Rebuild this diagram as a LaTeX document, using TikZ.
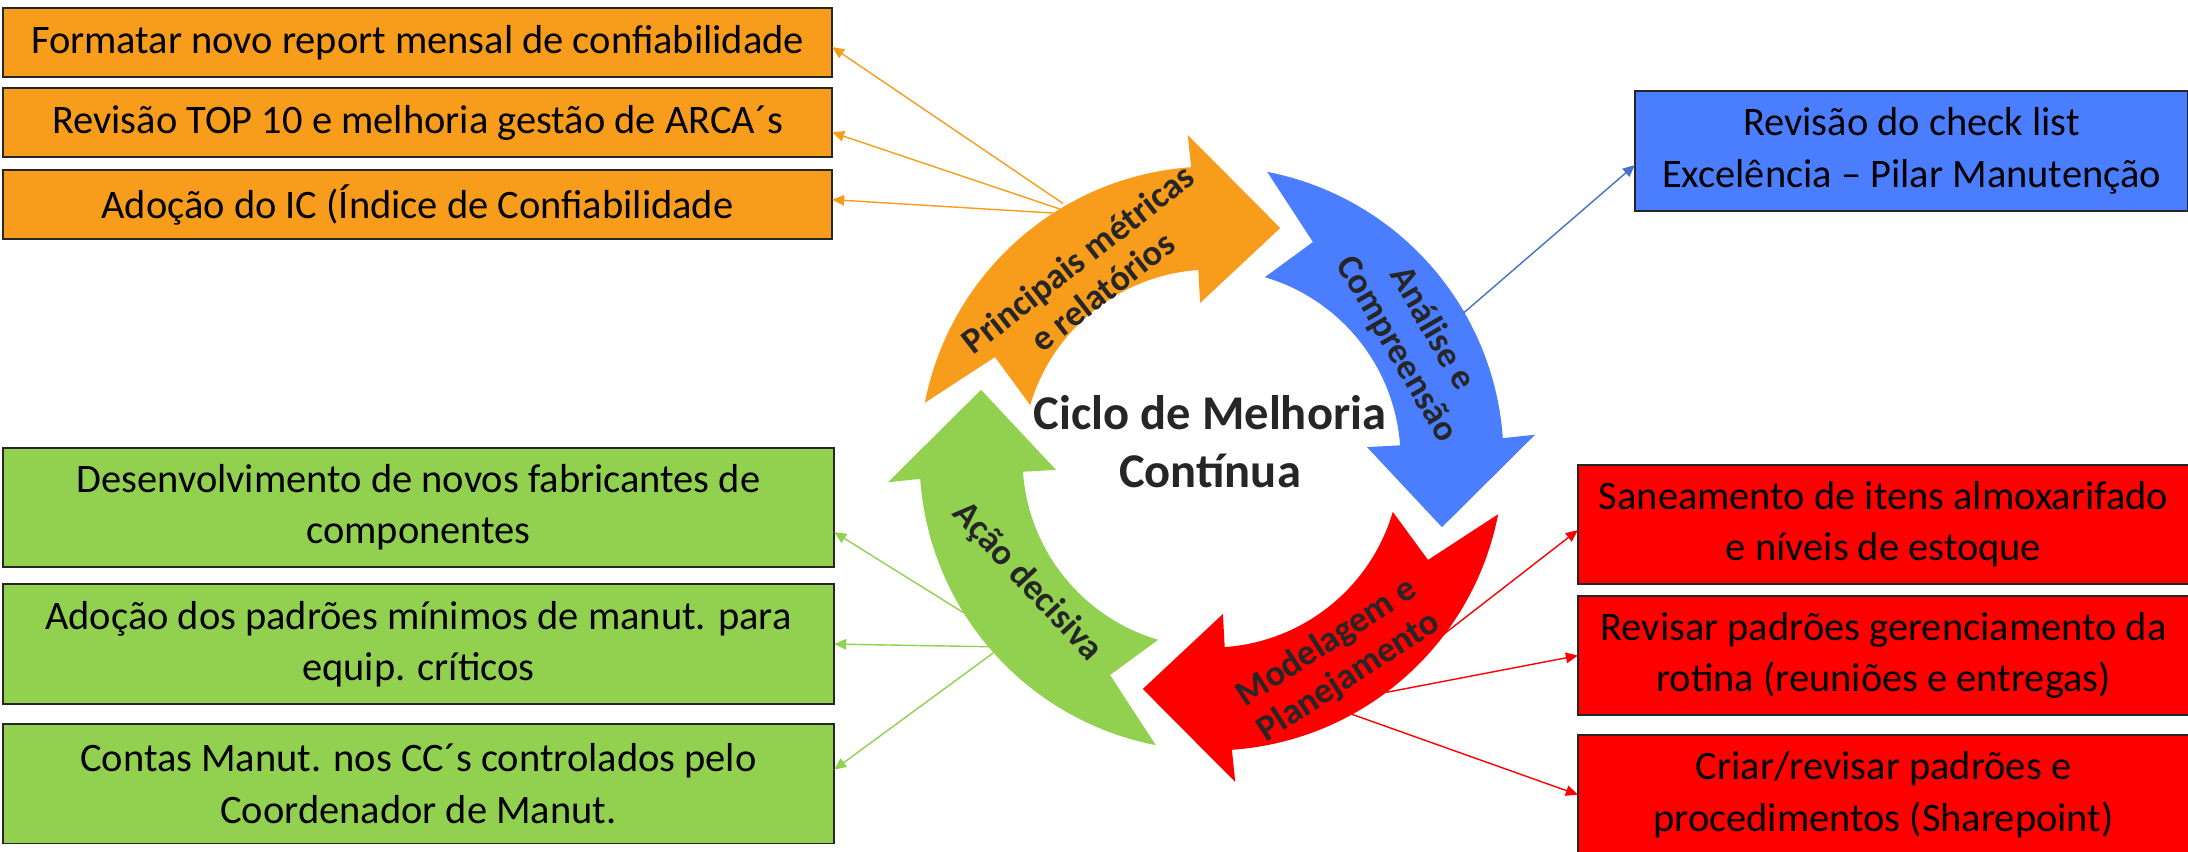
\documentclass[tikz,border=0pt]{standalone}
\usepackage{fontspec}
\setmainfont{Carlito}
\usetikzlibrary{arrows.meta,positioning}
\definecolor{cyOrange}{HTML}{F89C1C}
\definecolor{cyBlue}{HTML}{4A7EFF}
\definecolor{cyRed}{HTML}{FF0000}
\definecolor{cyGreen}{HTML}{92D050}
\definecolor{cyText}{HTML}{262626}
\definecolor{linkBlue}{HTML}{4472C4}
\tikzset{
	task/.style={draw=black!85, line width=0.5pt, fill=#1, inner sep=0pt, outer sep=0pt,
			align=center, font=\fontsize{11.5}{14.6}\selectfont},
	link/.style={draw=#1, line width=0.4pt, -{Triangle[length=3.4pt,width=3pt]}},
	steplabel/.style={text=cyText, align=center,
			font=\bfseries\fontsize{10.3}{11.6}\selectfont}
}

\begin{document}
\begin{tikzpicture}[x=0.01cm, y=-0.01cm]
	\useasboundingbox (0,0) rectangle (2188,851);
	\begin{scope}[shift={(1211.5,458.5)}, yscale=-1]
		\foreach \turn/\col in {0/cyOrange, 90/cyBlue, 180/cyRed, 270/cyGreen}
		\fill[\col, rotate=\turn]
		(169:292) arc[start angle=169, end angle=94, radius=292]
		-- (94.2:324.4) -- (73.4:240.5) -- (94.2:155.9) -- (94:189)
		arc[start angle=94, end angle=163.6, radius=189]
		-- (154.9:239.1) -- cycle;
		\coordinate (om1) at (120.2:295);
		\coordinate (om2) at (121.3:292);
		\coordinate (om3) at (122.8:292);
		\coordinate (bm) at (30:291);
		\coordinate (rm1) at (-37.3:291);
		\coordinate (rm2) at (-53.2:292);
		\coordinate (rm3) at (-61.2:292);
		\coordinate (gm1) at (-148.1:292);
		\coordinate (gm2) at (-139.7:291);
		\coordinate (gm3) at (-138.3:292);
	\end{scope}
	\node[steplabel, rotate=38] (lbOrange) at (1090,275) {Principais métricas\\e relatórios};
	\node[steplabel, rotate=-60] (lbBlue) at (1414,339) {Análise e\\Compreensão};
	\node[steplabel, rotate=33] (lbRed) at (1338,660) {Modelagem e\\Planejamento};
	\node[steplabel, rotate=-47] (lbGreen) at (1027,582) {Ação decisiva};
	\node[text=cyText, align=center, font=\bfseries\fontsize{13.8}{16.5}\selectfont]
	(title) at (1210,442) {Ciclo de Melhoria\\Contínua};

	\node[task=cyOrange, minimum width=8.29cm, minimum height=0.69cm]
	(o1) at (417.5,42.5) {Formatar novo report mensal de confiabilidade};
	\node[task=cyOrange, minimum width=8.29cm, minimum height=0.69cm, below=0.11cm of o1]
	(o2) {Revisão TOP 10 e melhoria gestão de ARCA´s};
	\node[task=cyOrange, minimum width=8.29cm, minimum height=0.69cm, below=0.13cm of o2]
	(o3) {Adoção do IC (Índice de Confiabilidade};

	\node[task=cyBlue, minimum width=5.53cm, minimum height=1.2cm]
	(b1) at (1911.5,151) {Revisão do check list\\Excelência – Pilar Manutenção};

	\node[task=cyRed, minimum width=6.11cm, minimum height=1.19cm]
	(r1) at (1883.5,524.5) {Saneamento de itens almoxarifado\\e níveis de estoque};
	\node[task=cyRed, minimum width=6.11cm, minimum height=1.19cm, below=0.12cm of r1]
	(r2) {Revisar padrões gerenciamento da\\rotina (reuniões e entregas)};
	\node[task=cyRed, minimum width=6.11cm, minimum height=1.19cm, below=0.2cm of r2]
	(r3) {Criar/revisar padrões e\\procedimentos (Sharepoint)};

	\node[task=cyGreen, minimum width=8.31cm, minimum height=1.195cm]
	(g1) at (418.5,507.5) {Desenvolvimento de novos fabricantes de\\componentes};
	\node[task=cyGreen, minimum width=8.31cm, minimum height=1.195cm, below=0.17cm of g1]
	(g2) {Adoção dos padrões mínimos de manut. para\\equip. críticos};
	\node[task=cyGreen, minimum width=8.31cm, minimum height=1.195cm, below=0.2cm of g2]
	(g3) {Contas Manut. nos CC´s controlados pelo\\Coordenador de Manut.};

	\draw[link=cyOrange] (om1) -- ([yshift=-1.3pt]o1.east);
	\draw[link=cyOrange] (om2) -- ([yshift=-2.8pt]o2.east);
	\draw[link=cyOrange] (om3) -- ([yshift=1.4pt]o3.east);
	\draw[link=linkBlue] (bm) -- ([yshift=-4pt]b1.west);
	\draw[link=cyRed] (rm1) -- ([yshift=-1.6pt]r1.west);
	\draw[link=cyRed] (rm2) -- (r2.west);
	\draw[link=cyRed] (rm3) -- (r3.west);
	\draw[link=cyGreen] (gm1) -- ([yshift=-7pt]g1.east);
	\draw[link=cyGreen] (gm2) -- (g2.east);
	\draw[link=cyGreen] (gm3) -- ([yshift=4pt]g3.east);
\end{tikzpicture}
\end{document}
